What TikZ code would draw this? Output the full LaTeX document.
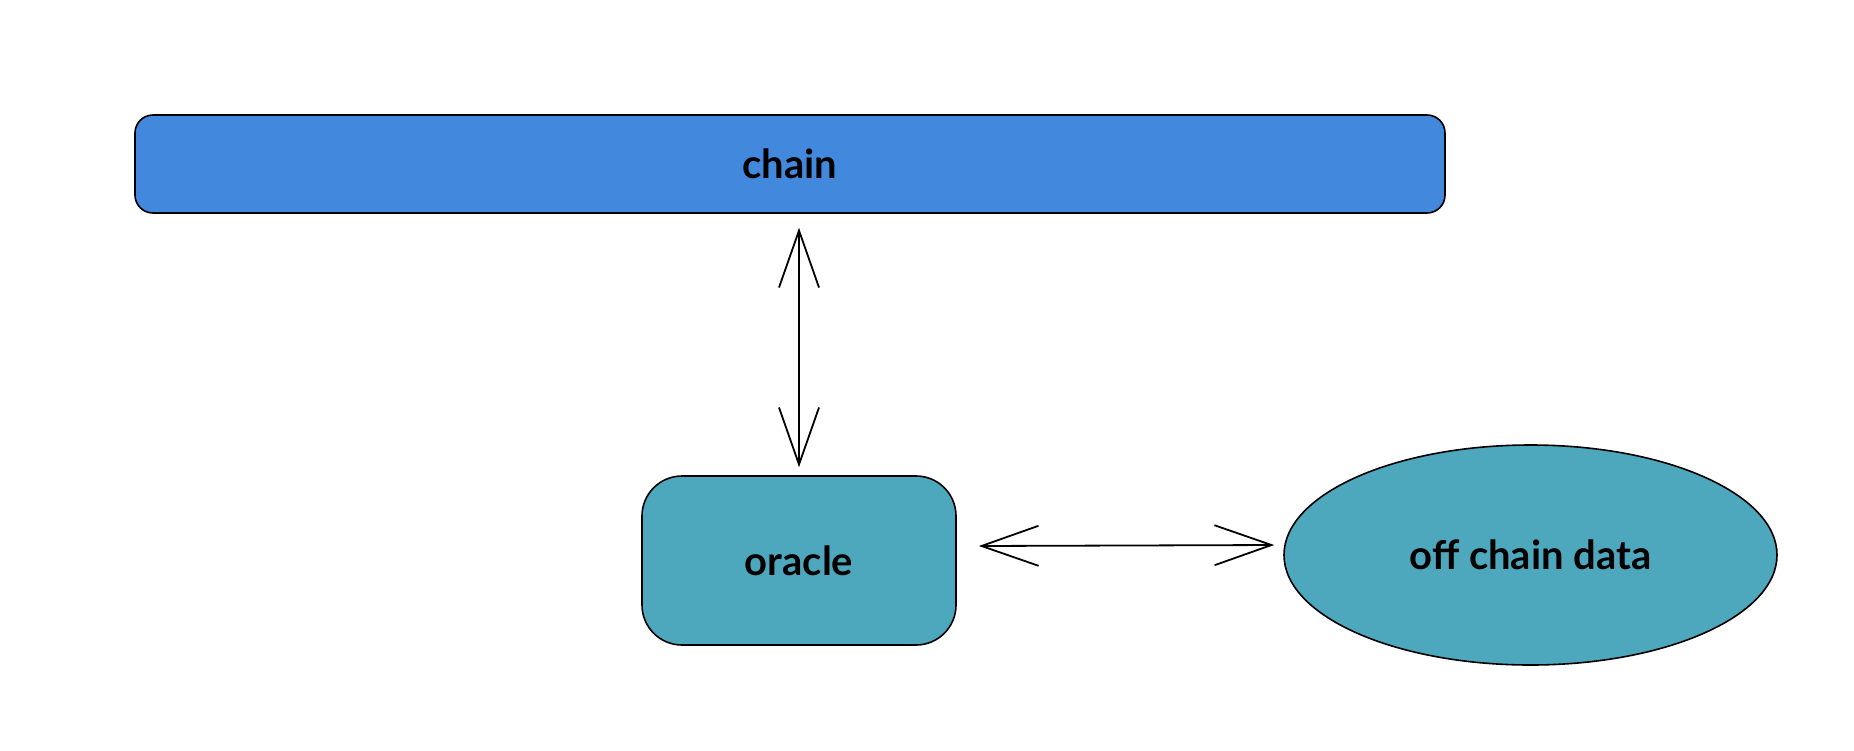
\documentclass[tikz,border=0pt]{standalone}
\usepackage{fontspec}
\setmainfont{Lato}
\usetikzlibrary{arrows.meta,shapes.geometric}
\definecolor{chainblue}{RGB}{66,137,222}
\definecolor{tealfill}{RGB}{78,168,189}
\tikzset{
  box/.style={draw=black, line width=1.6pt, inner sep=0pt, font=\fontsize{40}{46}\selectfont\bfseries},
  arr/.style={line width=1.8pt, {Straight Barb[length=57pt,width=40pt,line width=1.8pt]}-{Straight Barb[length=57pt,width=40pt,line width=1.8pt]}}
}
\begin{document}
\begin{tikzpicture}[x=1pt,y=-1pt]
\useasboundingbox[fill=white] (0,0) rectangle (1854,750);
\node[box, fill=chainblue, rounded corners=18pt, minimum width=1310pt, minimum height=98pt] (chain) at (790,164) {chain};
\node[box, fill=tealfill, rounded corners=40pt, minimum width=314pt, minimum height=169pt] (oracle) at (799,560.5) {oracle};
\node[box, fill=tealfill, ellipse, minimum width=493pt, minimum height=220pt] (data) at (1530.5,555) {off chain data};
\draw[arr, shorten <=14pt, shorten >=8pt] (oracle.north |- chain.south) -- (oracle.north);
\draw[arr] ([xshift=22pt,yshift=14.5pt]oracle.east) -- ([xshift=-9pt,yshift=10pt]data.west);
\end{tikzpicture}
\end{document}
